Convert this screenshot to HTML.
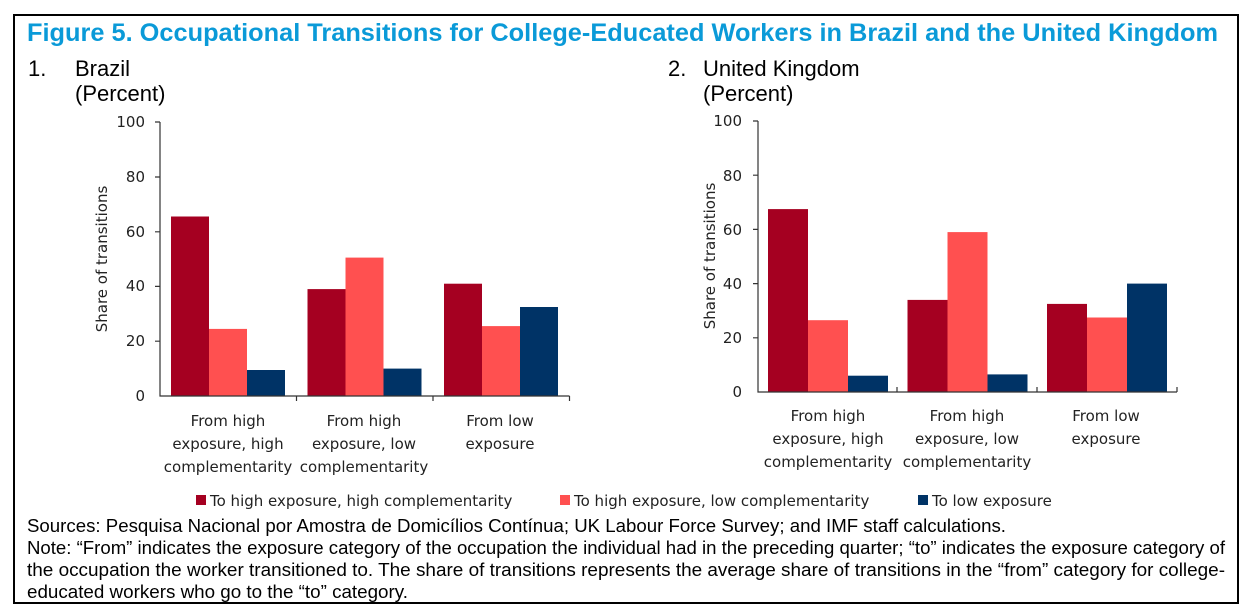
<!DOCTYPE html>
<html><head><meta charset="utf-8"><style>
html,body{margin:0;padding:0;background:#fff;}
svg{display:block;}
.t{font-family:"Liberation Sans",Arial,sans-serif;}
.c{font-family:"DejaVu Sans","Liberation Sans",sans-serif;font-size:15px;fill:#222;}
</style></head><body>
<svg width="1251" height="611" viewBox="0 0 1251 611" xmlns="http://www.w3.org/2000/svg">
<rect x="0" y="0" width="1251" height="611" fill="#fff"/>
<rect x="14" y="15" width="1224" height="588" fill="none" stroke="#000" stroke-width="2"/>
<text class="t" x="27" y="41" font-size="25" font-weight="bold" fill="#0a9ad8" textLength="1191" lengthAdjust="spacingAndGlyphs">Figure 5. Occupational Transitions for College-Educated Workers in Brazil and the United Kingdom</text>
<g class="t" font-size="22" fill="#000">
<text x="28" y="76">1.</text><text x="75" y="76">Brazil</text><text x="75" y="101">(Percent)</text>
<text x="668" y="76">2.</text><text x="703" y="76">United Kingdom</text><text x="703" y="101">(Percent)</text>
</g>
<!-- Brazil -->
<g>
<rect x="171" y="216.5" width="38" height="179.5" fill="#a50021"/>
<rect x="209" y="328.9" width="38" height="67.1" fill="#ff5050"/>
<rect x="247" y="370" width="38" height="26" fill="#003366"/>
<rect x="307.5" y="289.1" width="38" height="106.9" fill="#a50021"/>
<rect x="345.5" y="257.6" width="38" height="138.4" fill="#ff5050"/>
<rect x="383.5" y="368.6" width="38" height="27.4" fill="#003366"/>
<rect x="444" y="283.7" width="38" height="112.3" fill="#a50021"/>
<rect x="482" y="326.1" width="38" height="69.9" fill="#ff5050"/>
<rect x="520" y="307" width="38" height="89" fill="#003366"/>
<path d="M160 122V396H569.5M155 122H160M155 177H160M155 231.8H160M155 286.4H160M155 341.2H160M296.5 396V401M433 396V401M569.5 396V401" stroke="#333" stroke-width="1.2" fill="none"/>
<g class="c" text-anchor="end">
<text x="145" y="127">100</text><text x="145" y="182">80</text><text x="145" y="237">60</text><text x="145" y="291">40</text><text x="145" y="346">20</text><text x="145" y="401">0</text>
</g>
<text class="c" transform="translate(107,259) rotate(-90)" text-anchor="middle">Share of transitions</text>
<g class="c" text-anchor="middle">
<text x="228" y="426">From high</text><text x="228" y="449">exposure, high</text><text x="228" y="472">complementarity</text>
<text x="364" y="426">From high</text><text x="364" y="449">exposure, low</text><text x="364" y="472">complementarity</text>
<text x="500" y="426">From low</text><text x="500" y="449">exposure</text>
</g>
</g>
<!-- UK -->
<g>
<rect x="768" y="209.1" width="40" height="182.9" fill="#a50021"/>
<rect x="808" y="320.2" width="40" height="71.8" fill="#ff5050"/>
<rect x="848" y="375.7" width="40" height="16.3" fill="#003366"/>
<rect x="907.5" y="299.9" width="40" height="92.1" fill="#a50021"/>
<rect x="947.5" y="232.1" width="40" height="159.9" fill="#ff5050"/>
<rect x="987.5" y="374.4" width="40" height="17.6" fill="#003366"/>
<rect x="1047" y="303.9" width="40" height="88.1" fill="#a50021"/>
<rect x="1087" y="317.5" width="40" height="74.5" fill="#ff5050"/>
<rect x="1127" y="283.6" width="40" height="108.4" fill="#003366"/>
<path d="M758 121V392H1177M753 121H758M753 175.2H758M753 229.4H758M753 283.6H758M753 337.8H758M897 392V387M1037 392V387M1177 392V387" stroke="#333" stroke-width="1.2" fill="none"/>
<g class="c" text-anchor="end">
<text x="742" y="126">100</text><text x="742" y="181">80</text><text x="742" y="235">60</text><text x="742" y="289">40</text><text x="742" y="343">20</text><text x="742" y="397">0</text>
</g>
<text class="c" transform="translate(715,256) rotate(-90)" text-anchor="middle">Share of transitions</text>
<g class="c" text-anchor="middle">
<text x="828" y="421">From high</text><text x="828" y="444">exposure, high</text><text x="828" y="467">complementarity</text>
<text x="967" y="421">From high</text><text x="967" y="444">exposure, low</text><text x="967" y="467">complementarity</text>
<text x="1106" y="421">From low</text><text x="1106" y="444">exposure</text>
</g>
</g>
<!-- legend -->
<rect x="196" y="495" width="10" height="10" fill="#a50021"/>
<text class="c" x="210" y="506">To high exposure, high complementarity</text>
<rect x="560" y="495" width="10" height="10" fill="#ff5050"/>
<text class="c" x="574" y="506">To high exposure, low complementarity</text>
<rect x="918" y="495" width="10" height="10" fill="#003366"/>
<text class="c" x="932" y="506">To low exposure</text>
<g class="t" font-size="18" fill="#000">
<text x="27" y="532" textLength="979" lengthAdjust="spacingAndGlyphs">Sources: Pesquisa Nacional por Amostra de Domicílios Contínua; UK Labour Force Survey; and IMF staff calculations.</text>
<text x="27" y="554" textLength="1198" lengthAdjust="spacingAndGlyphs">Note: “From” indicates the exposure category of the occupation the individual had in the preceding quarter; “to” indicates the exposure category of</text>
<text x="27" y="576" textLength="1198" lengthAdjust="spacingAndGlyphs">the occupation the worker transitioned to. The share of transitions represents the average share of transitions in the “from” category for college-</text>
<text x="27" y="598" textLength="381" lengthAdjust="spacingAndGlyphs">educated workers who go to the “to” category.</text>
</g>
</svg>
</body></html>
